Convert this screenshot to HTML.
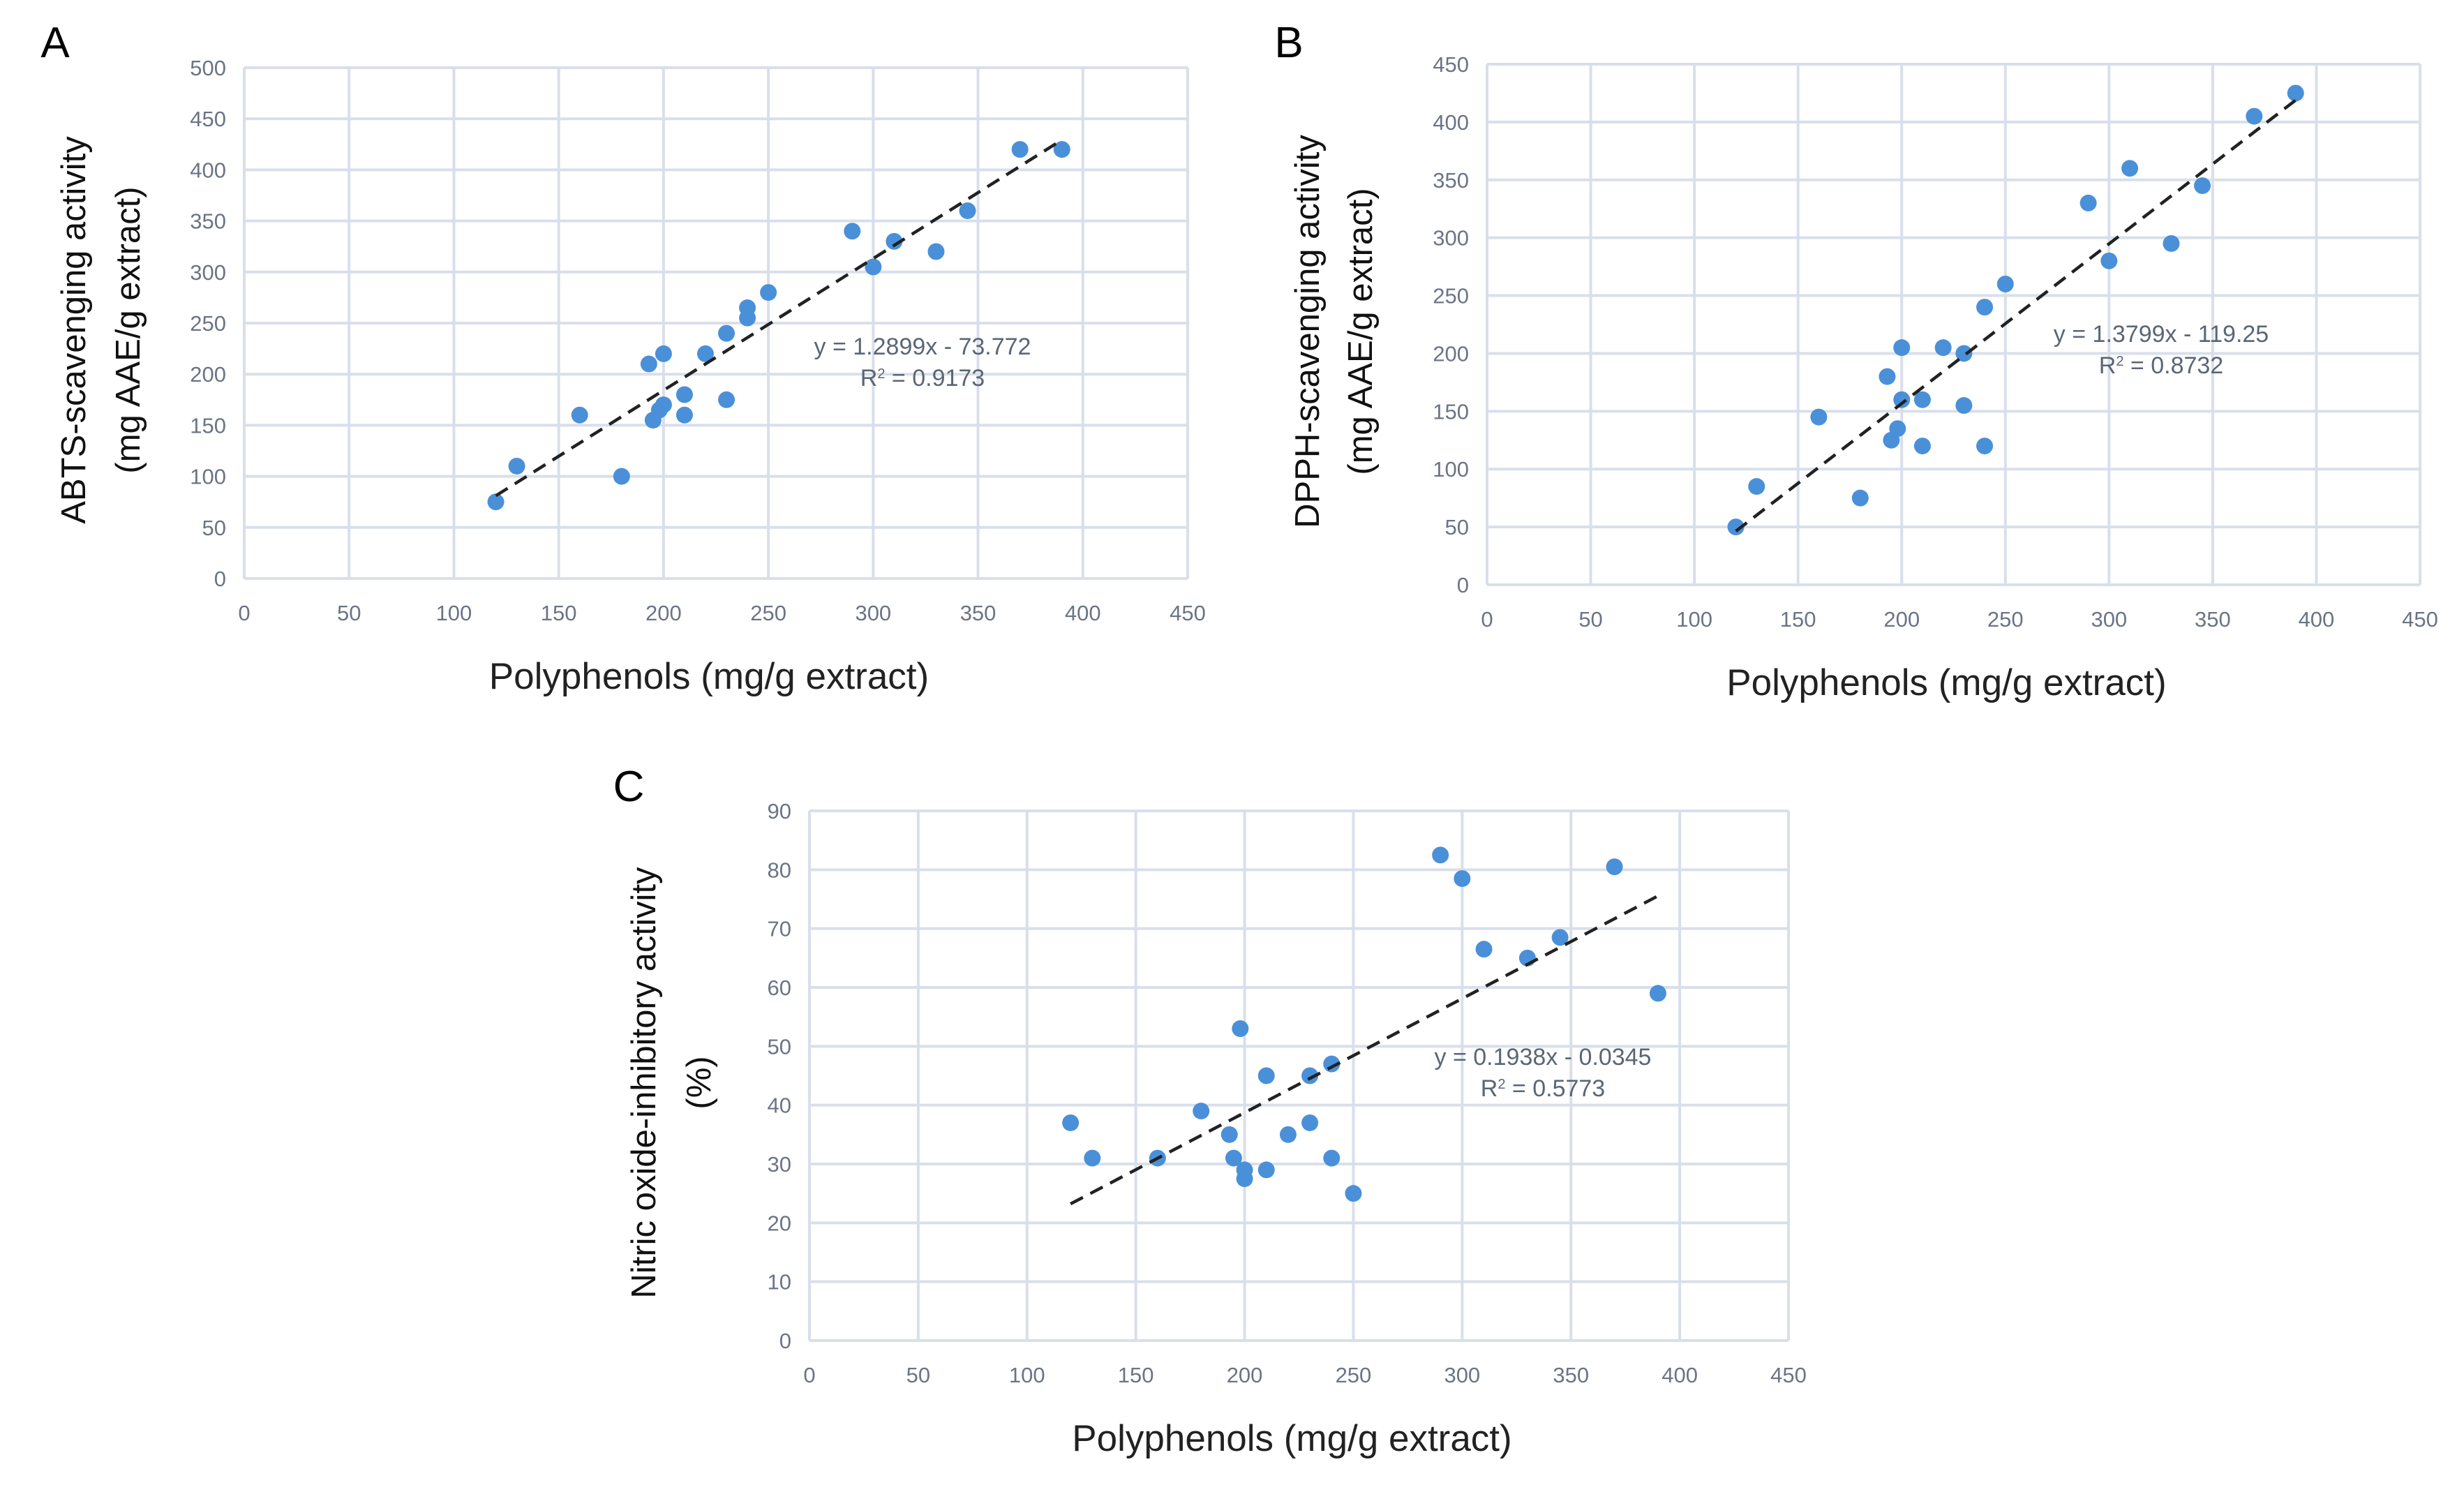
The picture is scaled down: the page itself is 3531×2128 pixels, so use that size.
<!DOCTYPE html>
<html><head><meta charset="utf-8">
<style>
html,body{margin:0;padding:0;background:#fff;}
svg{display:block;}
text{font-family:"Liberation Sans",sans-serif;}
</style></head>
<body>
<svg id="fig" width="3531" height="2128" viewBox="0 0 3531 2128" xmlns="http://www.w3.org/2000/svg"></svg>
<script>
const xTicks = [0,50,100,150,200,250,300,350,400,450];
const xA = [120,130,160,180,193,195,198,200,200,210,210,220,230,230,240,240,250,290,300,310,330,345,370,390];
const yA = [75,110,160,100,210,155,165,170,220,180,160,220,240,175,265,255,280,340,305,330,320,360,420,420];
const yTicksA = [0,50,100,150,200,250,300,350,400,450,500];
const xB = [120,130,160,180,193,195,198,200,200,210,210,220,230,230,240,240,250,290,300,310,330,345,370,390];
const yB = [50,85,145,75,180,125,135,160,205,160,120,205,200,155,240,120,260,330,280,360,295,345,405,425];
const yTicksB = [0,50,100,150,200,250,300,350,400,450];
const xC = [120,130,160,180,193,195,198,200,200,210,210,220,230,230,240,240,250,290,300,310,330,345,370,390];
const yC = [37,31,31,39,35,31,53,29,27.5,45,29,35,45,37,47,31,25,82.5,78.5,66.5,65,68.5,80.5,59];
const yTicksC = [0,10,20,30,40,50,60,70,80,90];
const fitA = [1.2899,-73.772], fitB = [1.3799,-119.25], fitC = [0.1938,-0.0345];

const NS="http://www.w3.org/2000/svg";
const svg=document.getElementById('fig');
function mk(tag,attrs,parent){const e=document.createElementNS(NS,tag);for(const k in attrs)e.setAttribute(k,attrs[k]);(parent||svg).appendChild(e);return e;}

function panel(p){
  const g=mk('g',{});
  
  
  const xmax=450, ymax=p.yTicks[p.yTicks.length-1];
  const sx=v=>p.x0+(p.x1-p.x0)*v/xmax;
  const sy=v=>p.y0-(p.y0-p.y1)*v/ymax;
  p.yTicks.forEach(t=>{
    const l=mk('line',{x1:p.x0,x2:p.x1,y1:sy(t),y2:sy(t),stroke:'#d9dfea','stroke-width':4},g);
    
    
    const tx=mk('text',{x:p.x0-26,y:sy(t)+11,'text-anchor':'end','font-size':31,fill:'#6b7486'},g);
    tx.textContent=t;
    
    
  });
  xTicks.forEach(t=>{
    const l=mk('line',{x1:sx(t),x2:sx(t),y1:p.y0,y2:p.y1,stroke:'#d9dfea','stroke-width':4},g);
    
    
    const tx=mk('text',{x:sx(t),y:p.y0+60,'text-anchor':'middle','font-size':31,fill:'#6b7486'},g);
    tx.textContent=t;
    
    
  });
  p.xs.forEach((x,i)=>{
    const c=mk('circle',{cx:sx(x),cy:sy(p.ys[i]),r:12,fill:'#4a90d9'},g);
    
    
  });
  const tl=mk('line',{x1:sx(120),y1:sy(p.fit[0]*120+p.fit[1]),x2:sx(390),y2:sy(p.fit[0]*390+p.fit[1]),stroke:'#222','stroke-width':4.5,'stroke-dasharray':'20,12'},g);
  
  
  const e1=mk('text',{x:p.eq[0],y:p.eq[1],'text-anchor':'middle','font-size':34,fill:'#5a6677'},g);
  e1.textContent=p.eqText;
  
  
  const e2=mk('text',{x:p.eq[0],y:p.eq[1]+45,'text-anchor':'middle','font-size':34,fill:'#5a6677'},g);
  e2.innerHTML='R<tspan baseline-shift="super" font-size="20">2</tspan> = '+p.r2;
  
  
  const lb=mk('text',{x:p.lab[0],y:p.lab[1],'text-anchor':'middle','font-size':62,fill:'#000'},g);
  lb.textContent=p.id;
  
  
  const xt=mk('text',{x:(p.x0+p.x1)/2-10,y:p.y0+158,'text-anchor':'middle','font-size':53,fill:'#222'},g);
  xt.textContent='Polyphenols (mg/g extract)';
  
  
  const yc=(p.y0+p.y1)/2+10;
  p.yTitle.forEach((s,i)=>{
    const x=p.yTitleX[i];
    const t=mk('text',{x:x,y:yc,'text-anchor':'middle','font-size':49,fill:'#111',transform:'rotate(-90 '+x+' '+yc+')'},g);
    t.textContent=s;
    
    
  });
}
panel({id:'A',x0:350,x1:1702,y0:829,y1:97,yTicks:yTicksA,xs:xA,ys:yA,fit:fitA,eq:[1322,508],eqText:'y = 1.2899x - 73.772',r2:'0.9173',lab:[79,82],yTitle:['ABTS-scavenging activity','(mg AAE/g extract)'],yTitleX:[122,200]});
panel({id:'B',x0:2131,x1:3468,y0:838,y1:92,yTicks:yTicksB,xs:xB,ys:yB,fit:fitB,eq:[3097,490],eqText:'y = 1.3799x - 119.25',r2:'0.8732',lab:[1847,82],yTitle:['DPPH-scavenging activity','(mg AAE/g extract)'],yTitleX:[1890,1966]});
panel({id:'C',x0:1160,x1:2563,y0:1921,y1:1162,yTicks:yTicksC,xs:xC,ys:yC,fit:fitC,eq:[2211,1526],eqText:'y = 0.1938x - 0.0345',r2:'0.5773',lab:[901,1148],yTitle:['Nitric oxide-inhibitory activity','(%)'],yTitleX:[939,1018]});
</script>
</body></html>
